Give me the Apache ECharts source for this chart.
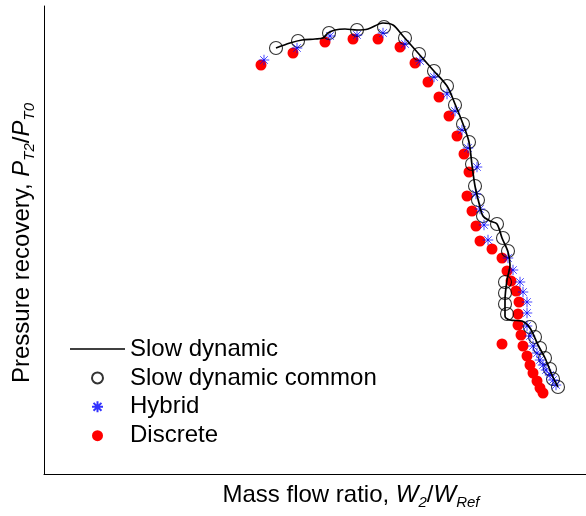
<!DOCTYPE html>
<html><head><meta charset="utf-8">
<script src="https://cdn.jsdelivr.net/npm/echarts@6/dist/echarts.min.js"></script>
<style>html,body{margin:0;padding:0;background:#fff}#c{width:586px;height:516px}</style>
</head><body><div id="c"></div>
<script>
// Mass flow ratio (x) vs pressure recovery (y), arbitrary normalised units
const slowDynamic = [
[0.732,0.926],[0.746,0.931],[0.758,0.934],[0.771,0.935],[0.779,0.936],[0.784,0.941],[0.791,0.944],
[0.801,0.945],[0.813,0.944],[0.824,0.945],[0.839,0.951],[0.849,0.949],[0.859,0.938],[0.874,0.921],
[0.889,0.904],[0.903,0.888],[0.911,0.870],[0.919,0.850],[0.925,0.832],[0.928,0.809],[0.931,0.788],
[0.935,0.771],[0.939,0.758],[0.946,0.753],[0.953,0.750],[0.958,0.736],[0.964,0.722],[0.966,0.709],
[0.963,0.694],[0.961,0.674],[0.961,0.658],[0.966,0.654],[0.978,0.653],[0.986,0.646],[0.994,0.629],
[1.001,0.616],[1.008,0.599],[1.014,0.587]
];
const slowDynamicCommon = [
[0.732,0.926],[0.754,0.933],[0.785,0.941],[0.813,0.944],[0.840,0.947],[0.861,0.936],[0.875,0.920],
[0.890,0.903],[0.903,0.888],[0.911,0.869],[0.919,0.850],[0.925,0.832],[0.928,0.810],[0.931,0.788],
[0.934,0.774],[0.939,0.758],[0.953,0.750],[0.959,0.736],[0.964,0.723],[0.961,0.692],[0.961,0.681],
[0.961,0.670],[0.963,0.660],[0.986,0.647],[0.991,0.637],[0.996,0.626],[1.001,0.616],[1.006,0.605],
[1.009,0.595],[1.014,0.587]
];
const hybrid = [
[0.720,0.914],[0.753,0.926],[0.786,0.938],[0.813,0.939],[0.839,0.941],[0.861,0.930],[0.876,0.913],
[0.890,0.897],[0.903,0.880],[0.911,0.863],[0.918,0.844],[0.924,0.826],[0.933,0.807],[0.932,0.780],
[0.936,0.765],[0.940,0.749],[0.944,0.734],[0.964,0.716],[0.969,0.704],[0.976,0.692],[0.979,0.682],
[0.983,0.672],[0.983,0.661],[0.983,0.648],[0.986,0.638],[0.989,0.628],[0.993,0.621],[0.996,0.614],
[0.999,0.609],[1.002,0.604],[1.006,0.599],[1.009,0.594],[1.012,0.589]
];
const discrete = [
[0.717,0.909],[0.749,0.921],[0.781,0.932],[0.809,0.935],[0.834,0.935],[0.856,0.927],[0.871,0.911],
[0.884,0.892],[0.895,0.877],[0.905,0.858],[0.913,0.838],[0.920,0.820],[0.925,0.802],[0.923,0.778],
[0.928,0.763],[0.932,0.748],[0.936,0.733],[0.948,0.725],[0.958,0.716],[0.963,0.703],[0.967,0.693],
[0.972,0.683],[0.975,0.672],[0.974,0.660],[0.974,0.649],[0.977,0.639],[0.958,0.630],[0.979,0.628],
[0.983,0.618],[0.986,0.609],[0.989,0.601],[0.993,0.593],[0.996,0.586],[0.999,0.581]
];
const legendNames = ['Slow dynamic','Slow dynamic common','Hybrid','Discrete'];

const FONT = "'Liberation Sans', Arial, sans-serif";
const chart = echarts.init(document.getElementById('c'), null, {renderer:'canvas'});
const rich = {
  n:{fontSize:24,lineHeight:30,fontFamily:FONT,color:'#000'},
  i:{fontSize:24,lineHeight:30,fontFamily:FONT,color:'#000',fontStyle:'italic'},
  s:{fontSize:15,lineHeight:15,fontFamily:FONT,color:'#000',fontStyle:'italic',verticalAlign:'bottom'}
};
const asterisk = 'path://M0,-1L0,1M-1,0L1,0M-0.72,-0.72L0.72,0.72M-0.72,0.72L0.72,-0.72';
const lineIcon = 'path://M0,0L55,0L55,1.7L0,1.7Z';
chart.setOption({
  animation:false,
  backgroundColor:'#fff',
  grid:{left:44,right:0,top:6,bottom:42,containLabel:false},
  xAxis:{type:'value',min:0.5,max:1.042,
    name:'{n|Mass flow ratio, }{i|W}{s|2}{n|/}{i|W}{s|Ref}',
    nameLocation:'middle',nameGap:6,
    nameTextStyle:{rich:rich,padding:[0,0,0,72]},
    axisLine:{show:true,lineStyle:{color:'#000',width:1}},
    axisTick:{show:false},axisLabel:{show:false},splitLine:{show:false}},
  yAxis:{type:'value',min:0.5,max:0.968,
    name:'{n|Pressure recovery, }{i|P}{s|T2}{n|/}{i|P}{s|T0}',
    nameLocation:'middle',nameGap:7,nameRotate:90,
    nameTextStyle:{rich:rich,padding:[0,6,0,0]},
    axisLine:{show:true,lineStyle:{color:'#000',width:1}},
    axisTick:{show:false},axisLabel:{show:false},splitLine:{show:false}},
  legend:{
    data:[{name:legendNames[0],icon:lineIcon},legendNames[1],legendNames[2],legendNames[3]],
    orient:'vertical', left:70, top:337, padding:0,
    itemWidth:55, itemHeight:11, itemGap:4.9, selectedMode:false,
    textStyle:{fontSize:24,lineHeight:24,fontFamily:FONT,color:'#000'}
  },
  series:[
    {name:legendNames[3],type:'scatter',data:discrete,symbol:'circle',symbolSize:11,
      itemStyle:{color:'#ff0000',opacity:1}},
    {name:legendNames[1],type:'scatter',data:slowDynamicCommon,symbol:'circle',symbolSize:13,
      itemStyle:{color:'rgba(0,0,0,0)',borderColor:'#000',borderWidth:1.1}},
    {name:legendNames[0],type:'line',data:slowDynamic,symbol:'none',smooth:0.3,
      lineStyle:{color:'#000',width:1.7},itemStyle:{color:'#000'}},
    {name:legendNames[2],type:'scatter',data:hybrid,symbol:asterisk,symbolSize:10.5,symbolKeepAspect:true,
      itemStyle:{color:'rgba(0,0,0,0)',borderColor:'#0000ff',borderWidth:0.9}}
  ]
});
</script></body></html>
